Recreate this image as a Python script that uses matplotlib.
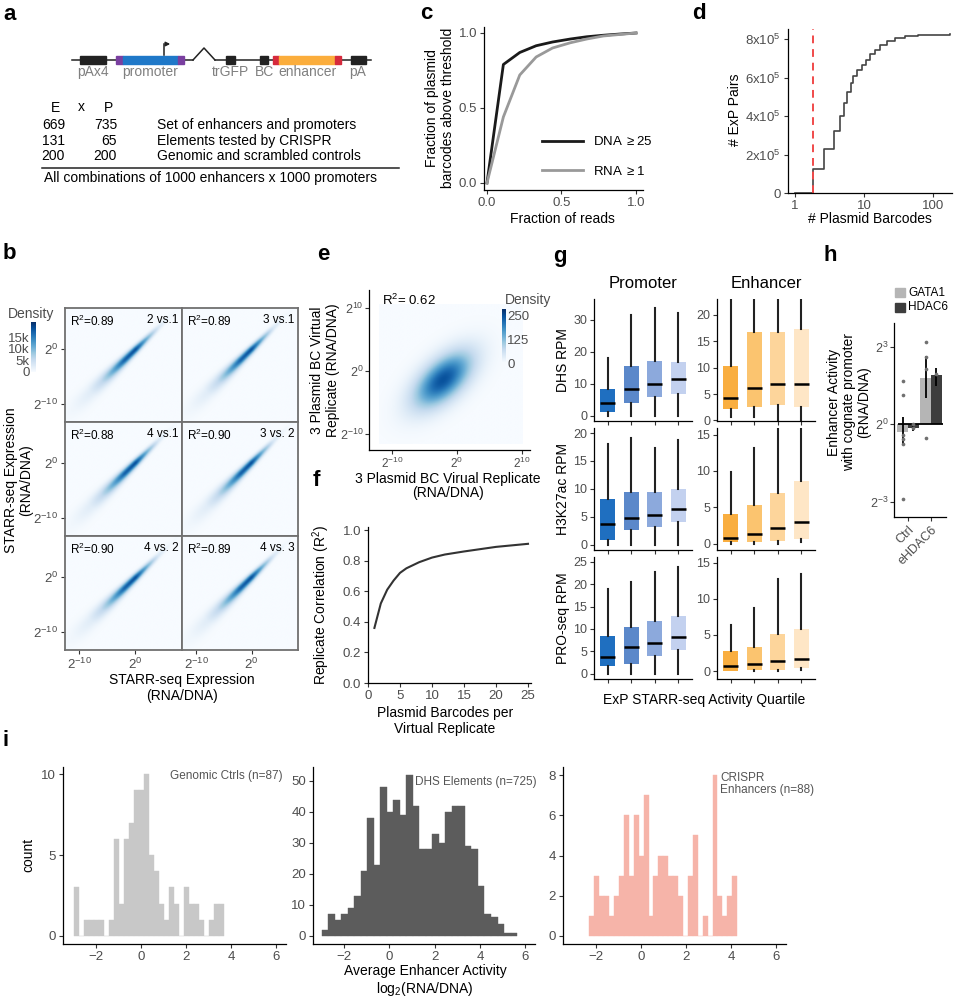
import numpy as np
import matplotlib
matplotlib.use('Agg')
import matplotlib.pyplot as plt
from matplotlib.patches import Rectangle

plt.rcParams['font.family'] = ['Liberation Sans', 'DejaVu Sans']
plt.rcParams['mathtext.fontset'] = 'custom'
plt.rcParams['mathtext.rm'] = 'Liberation Sans'
plt.rcParams['mathtext.it'] = 'Liberation Sans:italic'
plt.rcParams['mathtext.bf'] = 'Liberation Sans:bold'
plt.rcParams['axes.linewidth'] = 0.9

# --- data ---
# a: library design
table_E = [669, 131, 200]
table_P = [735, 65, 200]
table_desc = ['Set of enhancers and promoters', 'Elements tested by CRISPR',
              'Genomic and scrambled controls']

# b: replicate correlations, density ridge along the diagonal (log2 units)
b_r2 = ['0.89', '0.89', '0.88', '0.90', '0.90', '0.89']
b_pairs = ['2 vs.1', '3 vs.1', '4 vs.1', '3 vs. 2', '4 vs. 2', '4 vs. 3']
ridge_u = [-14, -11, -8, -6, -4, -2, 0, 2, 4, 6, 9]
ridge_amp = [0.0, 0.04, 0.12, 0.28, 0.55, 0.85, 0.92, 0.5, 0.16, 0.03, 0.0]
ridge_width = [1.3, 1.15, 0.95, 0.8, 0.65, 0.52, 0.44, 0.38, 0.33, 0.29, 0.25]
b_density_max = 21600

# c: barcode thresholds
c_frac_reads = [0, 0.11, 0.22, 0.33, 0.44, 0.56, 0.67, 0.78, 0.89, 1.0]
c_dna = [0, 0.79, 0.87, 0.915, 0.94, 0.96, 0.975, 0.985, 0.993, 1.0]
c_rna = [0, 0.44, 0.72, 0.84, 0.90, 0.935, 0.96, 0.98, 0.99, 1.0]

# d: cumulative ExP pairs vs plasmid barcodes
d_barcodes = [1, 1.82, 2.63, 3.67, 4.5, 5.1, 5.67, 6.5, 6.9, 7.9, 9.3, 10.7,
              12.2, 14.4, 17.1, 21.6, 28.1, 39.3, 60, 176]
d_pairs = [0, 1.27e5, 2.31e5, 3.21e5, 4.0e5, 4.65e5, 5.24e5, 5.7e5, 6.08e5,
           6.4e5, 6.63e5, 6.9e5, 7.2e5, 7.45e5, 7.7e5, 7.9e5, 8.05e5, 8.15e5,
           8.22e5, 8.25e5]
d_cutoff = 1.82

# e: virtual replicate density
e_r2 = '0.62'
e_center = (-2.2, -1.4)
e_sd_major, e_sd_minor = 3.9, 2.0
e_density_max = 287

# f: replicate correlation vs barcodes
f_barcodes = [1, 2, 3, 4, 5, 6, 7, 8, 9, 10, 12, 15, 20, 25]
f_r2 = [0.36, 0.52, 0.61, 0.67, 0.72, 0.75, 0.77, 0.79, 0.805, 0.82, 0.84,
        0.86, 0.89, 0.91]

# g: chromatin marks per activity quartile (whislo, q1, med, q3, whishi)
g_marks = ['DHS RPM', 'H3K27ac RPM', 'PRO-seq RPM']
g_prom = [
    [(0, 1.1, 3.9, 8.3, 18.0), (0, 3.9, 8.2, 15.4, 31.6),
     (0, 5.7, 9.8, 17.1, 33.6), (0, 6.8, 11.4, 16.9, 32.1)],
    [(0, 0.9, 3.7, 8.2, 18.1), (0, 2.6, 4.8, 9.4, 19.1),
     (0, 3.2, 5.3, 9.4, 17.3), (0, 4.1, 6.4, 10.0, 18.8)],
    [(0, 1.6, 3.8, 8.5, 18.9), (0, 2.2, 5.9, 10.5, 20.6),
     (0, 3.9, 6.9, 11.8, 22.7), (0, 5.4, 8.1, 12.8, 23.8)],
]
g_enh = [
    [(0.6, 2.1, 4.3, 10.4, 25), (0.6, 2.6, 6.1, 16.8, 25),
     (0, 3.0, 7.0, 16.8, 25), (0, 2.5, 7.0, 17.3, 25)],
    [(0, 0.25, 0.83, 4.1, 9.8), (0, 0.25, 1.3, 5.4, 13.1),
     (0, 0.4, 2.2, 7.0, 18), (0.2, 0.73, 3.0, 8.6, 18)],
    [(0, 0.05, 0.66, 2.8, 6.4), (0, 0.1, 1.0, 3.4, 8.7),
     (0, 0.15, 1.4, 5.2, 12.8), (0.1, 0.4, 1.7, 5.8, 13.4)],
]
g_prom_colors = ['#1f6fc0', '#5b88ca', '#8ca9dc', '#c3d1ef']
g_enh_colors = ['#f9ae40', '#fbc46f', '#fdd59b', '#fee6c6']

# h: CRISPRi enhancer activity (log2)
h_groups = ['Ctrl', 'eHDAC6']
h_gata1 = [-0.29, 1.81]
h_hdac6 = [-0.13, 1.92]
h_gata1_err = [(-0.8, 0.3), (1.02, 2.66)]
h_hdac6_err = [(-0.25, 0.0), (1.47, 2.17)]
h_gata1_pts = [[1.68, 1.13, -0.42, -0.58, -0.75, -2.92], [3.2, 2.6, 2.14, -0.55]]
h_hdac6_pts = [[0.0, -0.15], [1.95]]

# i: histograms of average enhancer activity
i1_counts = [3, 0, 1, 1, 1, 1, 0, 1, 6, 2, 6, 7, 9, 9, 10, 5, 4, 2, 1, 3, 2, 0,
             3, 2, 2, 1, 0, 1, 2, 2]
i1_start, i1_width = -3.0, 0.2222
i2_counts = [2, 7, 5, 7, 9, 13, 21, 38, 23, 48, 40, 44, 39, 52, 42, 28, 28, 33,
             30, 40, 42, 42, 29, 28, 16, 7, 6, 4, 1, 1]
i2_start, i2_width = -2.98, 0.287
i3_counts = [1, 3, 2, 2, 1, 2, 3, 6, 3, 6, 4, 7, 1, 3, 4, 4, 3, 3, 2, 0, 3, 5,
             0, 1, 0, 8, 2, 1, 2, 3]
i3_start, i3_width = -2.27, 0.218

W, H = 955, 1002
fig = plt.figure(figsize=(W / 100, H / 100), dpi=100)
TICK = '#4d4d4d'


def px_axes(x0, y0, x1, y1):
    return fig.add_axes([x0 / W, 1 - y1 / H, (x1 - x0) / W, (y1 - y0) / H])


def classic(ax, size=9.5):
    for s in ['top', 'right']:
        ax.spines[s].set_visible(False)
    ax.tick_params(colors='#333333', labelcolor=TICK, length=3, width=0.8,
                   labelsize=size, pad=2)


# ---------- b ----------
cmap = plt.get_cmap('Blues')
gx = np.linspace(-12.6, 8.4, 300)
gy = np.linspace(-13.4, 7.6, 300)
GX, GY = np.meshgrid(gx, gy)
U = (GX + GY) / 2
V = (GY - GX) / np.sqrt(2)
ridge = np.interp(U, ridge_u, ridge_amp) * np.exp(
    -0.5 * (V / np.interp(U, ridge_u, ridge_width)) ** 2)
b_cols = [(65, 182), (182, 298)]
b_rows = [(308, 422), (422, 536), (536, 650)]
pow2 = lambda v: r'$2^{%d}$' % v
for k in range(6):
    r, c = divmod(k, 2)
    ax = px_axes(b_cols[c][0], b_rows[r][0], b_cols[c][1], b_rows[r][1])
    ax.imshow(ridge * b_density_max * 0.95, extent=[-12.6, 8.4, -13.4, 7.6],
              origin='lower', cmap=cmap, vmin=0, vmax=b_density_max,
              aspect='auto', interpolation='bilinear')
    ax.set_xlim(-12.6, 8.4)
    ax.set_ylim(-13.4, 7.6)
    for s in ax.spines.values():
        s.set_color('#707070')
        s.set_linewidth(1.3)
    ax.tick_params(colors='#333333', labelcolor=TICK, length=3, width=0.8,
                   labelsize=9.5, pad=2)
    ax.set_xticks([-10, 0])
    ax.set_yticks([-10, 0])
    ax.set_xticklabels([pow2(-10), pow2(0)] if r == 2 else [])
    ax.set_yticklabels([pow2(-10), pow2(0)] if c == 0 else [])
    if r < 2:
        ax.tick_params(axis='x', length=0)
    if c == 1:
        ax.tick_params(axis='y', length=0)
    ax.text(0.04, 0.95, r'R$^2$=' + b_r2[k], transform=ax.transAxes,
            fontsize=8.5, va='top', ha='left')
    ax.text(0.97, 0.95, b_pairs[k], transform=ax.transAxes, fontsize=8.5,
            va='top', ha='right')

cax = px_axes(31, 322, 35, 372)
cax.imshow(np.linspace(0, 1, 100)[:, None], aspect='auto', cmap=cmap,
           origin='lower', extent=[0, 1, 0, b_density_max])
cax.set_xticks([])
cax.set_yticks([0, 5000, 10000, 15000])
cax.set_yticklabels(['0', '5k', '10k', '15k'])
cax.tick_params(axis='y', length=0, labelsize=9.5, labelcolor=TICK, pad=1)
for s in cax.spines.values():
    s.set_visible(False)

# ---------- c ----------
ax = px_axes(484, 27, 643, 190)
classic(ax)
ax.plot(c_frac_reads, c_dna, color='#1a1a1a', lw=2)
ax.plot(c_frac_reads, c_rna, color='#999999', lw=2)
ax.set_xlim(-0.02, 1.047)
ax.set_ylim(-0.047, 1.04)
ax.set_xticks([0, 0.5, 1.0])
ax.set_yticks([0, 0.5, 1.0])
ax.set_xticklabels(['0.0', '0.5', '1.0'])
ax.set_yticklabels(['0.0', '0.5', '1.0'])

# ---------- d ----------
ax = px_axes(788, 29, 952, 193)
classic(ax)
ax.plot(d_barcodes, d_pairs, drawstyle='steps-post', color='#444444', lw=1.2)
ax.axvline(d_cutoff, color='#f04a4a', lw=1.4, ls=(0, (4, 3)))
ax.set_xscale('log')
ax.set_xlim(0.79, 189)
ax.set_ylim(0, 8.52e5)
ax.set_xticks([1, 10, 100])
ax.set_xticklabels(['1', '10', '100'])
ax.minorticks_off()
ax.set_yticks([0, 2e5, 4e5, 6e5, 8e5])
ax.set_yticklabels(['0', r'2x$10^{5}$', r'4x$10^{5}$', r'6x$10^{5}$',
                    r'8x$10^{5}$'])

# ---------- e ----------
ax = px_axes(369, 290, 530, 450)
classic(ax, 9)
ax.tick_params(axis='x', pad=1, labelsize=8.5)
ax.tick_params(axis='y', pad=1)
ex = np.linspace(-12, 10, 220)
ey = np.linspace(-11.6, 10.6, 220)
EX, EY = np.meshgrid(ex, ey)
A = ((EX - e_center[0]) + (EY - e_center[1])) / np.sqrt(2)
B = ((EY - e_center[1]) - (EX - e_center[0])) / np.sqrt(2)
blob = np.exp(-0.5 * ((A / e_sd_major) ** 2 + (B / e_sd_minor) ** 2))
ax.imshow(blob * 250, extent=[-12, 10, -11.6, 10.6], origin='lower',
          cmap=cmap, vmin=0, vmax=e_density_max, aspect='auto',
          interpolation='bilinear')
ax.set_xlim(-13.5, 11.2)
ax.set_ylim(-12.5, 12.9)
ax.set_xticks([-10, 0, 10])
ax.set_yticks([-10, 0, 10])
ax.set_xticklabels([pow2(-10), pow2(0), pow2(10)])
ax.set_yticklabels([pow2(-10), pow2(0), pow2(10)])
ax.text(-11.5, 11.2, r'R$^2$= ' + e_r2, fontsize=9.5, va='center')

cax = px_axes(502, 309, 506, 363)
cax.imshow(np.linspace(0, 1, 100)[:, None], aspect='auto', cmap=cmap,
           origin='lower', extent=[0, 1, 0, e_density_max])
cax.set_xticks([])
cax.yaxis.tick_right()
cax.set_yticks([0, 125, 250])
cax.tick_params(axis='y', length=0, labelsize=9.5, labelcolor=TICK, pad=1)
for s in cax.spines.values():
    s.set_visible(False)

# ---------- f ----------
ax = px_axes(368, 527, 531, 683)
classic(ax)
ax.plot(f_barcodes, f_r2, color='#333333', lw=1.5)
ax.set_xlim(0, 25.47)
ax.set_ylim(0, 1.02)
ax.set_xticks([0, 5, 10, 15, 20, 25])
ax.set_yticks([0, 0.2, 0.4, 0.6, 0.8, 1.0])
ax.set_yticklabels(['0.0', '0.2', '0.4', '0.6', '0.8', '1.0'])

# ---------- g ----------
g_rows = [(299, 421), (428, 550), (557, 679)]
g_prom_lim = [(-1.7, 36.5), (-0.96, 20.9), (-1.2, 26.1)]
g_enh_lim = [(-0.1, 23.0), (-0.84, 15.9), (-1.1, 15.8)]
g_prom_ticks = [[0, 10, 20, 30], [0, 5, 10, 15, 20], [0, 5, 10, 15, 20, 25]]
g_enh_ticks = [[0, 5, 10, 15, 20], [0, 5, 10, 15], [0, 5, 10, 15]]


def g_box(ax, stats, colors, lim, ticks):
    classic(ax, 9)
    st = [dict(whislo=s[0], q1=s[1], med=s[2], q3=s[3], whishi=s[4])
          for s in stats]
    bp = ax.bxp(st, positions=[1, 2, 3, 4], widths=0.62, patch_artist=True,
                showfliers=False, showcaps=False,
                medianprops=dict(color='black', lw=1.8),
                whiskerprops=dict(color='#222222', lw=1.5))
    for patch, col in zip(bp['boxes'], colors):
        patch.set_facecolor(col)
        patch.set_edgecolor('none')
    ax.set_xlim(0.42, 4.58)
    ax.set_ylim(*lim)
    ax.set_yticks(ticks)
    ax.set_xticks([1, 2, 3, 4])
    ax.set_xticklabels([])


for r in range(3):
    axp = px_axes(594, g_rows[r][0], 692, g_rows[r][1])
    g_box(axp, g_prom[r], g_prom_colors, g_prom_lim[r], g_prom_ticks[r])
    axe = px_axes(717, g_rows[r][0], 815, g_rows[r][1])
    g_box(axe, g_enh[r], g_enh_colors, g_enh_lim[r], g_enh_ticks[r])

# ---------- h ----------
ax = px_axes(894, 323, 946, 517)
classic(ax, 9)
ax.tick_params(axis='y', pad=1)
xpos = np.arange(1, len(h_groups) + 1)
bw = 0.47
ax.bar(xpos - bw / 2, h_gata1, width=bw, color='#b5b5b5', zorder=1)
ax.bar(xpos + bw / 2, h_hdac6, width=bw, color='#3d3d3d', zorder=1)
ax.hlines(0, 0.55, 2.5, color='black', lw=1.3, zorder=2)
for i in range(len(h_groups)):
    ax.vlines(xpos[i] - bw / 2, *h_gata1_err[i], color='black', lw=1.3, zorder=3)
    ax.vlines(xpos[i] + bw / 2, *h_hdac6_err[i], color='black', lw=1.3, zorder=3)
    ax.scatter([xpos[i] - bw / 2] * len(h_gata1_pts[i]), h_gata1_pts[i],
               s=7, color='#707070', zorder=4, linewidths=0)
    ax.scatter([xpos[i] + bw / 2] * len(h_hdac6_pts[i]), h_hdac6_pts[i],
               s=7, color='#707070', zorder=4, linewidths=0)
ax.set_xlim(0.39, 2.65)
ax.set_ylim(-3.6, 3.93)
ax.set_yticks([-3, 0, 3])
ax.set_yticklabels([pow2(-3), pow2(0), pow2(3)])
ax.set_xticks(xpos)
ax.set_xticklabels(h_groups, rotation=45, ha='right', rotation_mode='anchor')

# ---------- i ----------
i_specs = [
    ((63, 767, 286, 944), i1_counts, i1_start, i1_width, '#c8c8c8',
     (-3.47, 6.44), (-0.5, 10.45), [0, 5, 10]),
    ((313, 767, 535, 944), i2_counts, i2_start, i2_width, '#5c5c5c',
     (-3.36, 6.42), (-2.6, 54.5), [0, 10, 20, 30, 40, 50]),
    ((563, 767, 786, 944), i3_counts, i3_start, i3_width, '#f6b4a9',
     (-3.44, 6.43), (-0.4, 8.4), [0, 2, 4, 6, 8]),
]
for box, counts, start, width, col, xl, yl, yt in i_specs:
    ax = px_axes(*box)
    classic(ax)
    edges = start + width * np.arange(len(counts))
    ax.bar(edges, counts, width=width, align='edge', color=col,
           edgecolor=col, linewidth=0.3)
    ax.set_xlim(*xl)
    ax.set_ylim(*yl)
    ax.set_yticks(yt)
    ax.set_xticks([-2, 0, 2, 4, 6])
    ax.set_xticklabels(['\u22122', '0', '2', '4', '6'])

# ---------- overlay: diagram, labels, titles ----------
ov = fig.add_axes([0, 0, 1, 1])
ov.set_xlim(0, W)
ov.set_ylim(H, 0)
ov.axis('off')
ov.patch.set_alpha(0)

def T(x, y, s, **kw):
    kw.setdefault('fontsize', 10)
    kw.setdefault('ha', 'center')
    kw.setdefault('va', 'center')
    ov.text(x, y, s, **kw)

# panel letters
for lab, x, y in [('a', 3, 14), ('b', 3, 253), ('c', 420, 13), ('d', 692, 13),
                  ('e', 317, 254), ('f', 313, 480), ('g', 553, 256),
                  ('h', 823, 255), ('i', 2, 740)]:
    T(x, y, lab, fontsize=16, fontweight='bold', ha='left')

# a: construct diagram
ov.plot([72, 193], [60, 60], color='#222222', lw=1.1, zorder=1)
ov.plot([193, 204, 215], [60, 48, 60], color='#222222', lw=1.1, zorder=1)
ov.plot([215, 371], [60, 60], color='#222222', lw=1.1, zorder=1)
for x0, x1, col in [(80, 106, '#222222'), (116, 123, '#7a3fa0'),
                    (123, 178, '#1f78c8'), (178, 184, '#7a3fa0'),
                    (226, 235, '#222222'), (260, 268, '#222222'),
                    (273, 279, '#d62a3c'), (279, 335, '#fbad3c'),
                    (335, 341, '#d62a3c'), (351, 366, '#222222')]:
    ov.add_patch(Rectangle((x0, 55.5), x1 - x0, 8.5, color=col, zorder=2))
ov.plot([164, 164], [55, 44], color='#222222', lw=1.1)
ov.annotate('', xy=(173, 44), xytext=(163.5, 44),
            arrowprops=dict(arrowstyle='-|>', color='#222222', lw=1.1,
                            mutation_scale=6))
for lab, x in [('pAx4', 93), ('promoter', 150), ('trGFP', 230), ('BC', 264),
               ('enhancer', 307), ('pA', 358)]:
    T(x, 72, lab, color='#808080', fontsize=10)

T(55, 108, 'E'); T(81, 107, 'x'); T(108, 108, 'P')
for k in range(3):
    y = 125 + 15.7 * k
    T(65, y, str(table_E[k]), ha='right')
    T(117, y, str(table_P[k]), ha='right')
    T(157, y, table_desc[k], ha='left')
ov.plot([42, 399], [168, 168], color='#222222', lw=1.1)
T(44, 178, 'All combinations of 1000 enhancers x 1000 promoters', ha='left')

# b
T(8, 314, 'Density', ha='left', color='#4d4d4d')
T(19, 480, 'STARR-seq Expression\n(RNA/DNA)', rotation=90, linespacing=1.1)
T(182, 688, 'STARR-seq Expression\n(RNA/DNA)', linespacing=1.15)

# c
T(440, 108, 'Fraction of plasmid\nbarcodes above threshold', rotation=90,
  linespacing=1.15)
T(562, 219, 'Fraction of reads')
ov.plot([542, 583], [141, 141], color='#1a1a1a', lw=2)
ov.plot([542, 583], [170, 170], color='#999999', lw=2)
T(593, 141, 'DNA $\\geq$25', ha='left', fontsize=9.5)
T(593, 171, 'RNA $\\geq$1', ha='left', fontsize=9.5)

# d
T(735, 110, '# ExP Pairs', rotation=90)
T(870, 219, '# Plasmid Barcodes')

# e
T(505, 300, 'Density', ha='left', color='#4d4d4d')
T(325, 370, '3 Plasmid BC Virtual\nReplicate (RNA/DNA)', rotation=90,
  linespacing=1.1)
T(448, 486, '3 Plasmid BC Virual Replicate\n(RNA/DNA)', linespacing=1.05)

# f
T(321, 605, r'Replicate Correlation (R$^2$)', rotation=90)
T(445, 721, 'Plasmid Barcodes per\nVirtual Replicate', linespacing=1.15)

# g
T(643, 283, 'Promoter', fontsize=12)
T(766, 283, 'Enhancer', fontsize=12)
for r in range(3):
    T(563, (g_rows[r][0] + g_rows[r][1]) / 2, g_marks[r], rotation=90)
T(704, 700, 'ExP STARR-seq Activity Quartile')

# h
ov.add_patch(Rectangle((895, 288), 10, 9, color='#b5b5b5'))
ov.add_patch(Rectangle((895, 303), 10, 9, color='#3d3d3d'))
T(908, 292.5, 'GATA1', ha='left', fontsize=8.5)
T(908, 307.5, 'HDAC6', ha='left', fontsize=8.5)
T(849, 402, 'Enhancer Activity\nwith cognate promoter\n(RNA/DNA)', rotation=90,
  linespacing=1.1)

# i
T(28, 855, 'count', rotation=90)
T(283, 776, 'Genomic Ctrls (n=87)', ha='right', color='#555555', fontsize=8.5)
T(415, 782, 'DHS Elements (n=725)', ha='left', color='#555555', fontsize=8.5)
T(720, 784, 'CRISPR\nEnhancers (n=88)', ha='left', color='#555555',
  fontsize=8.5, linespacing=1.1)
T(425, 981, 'Average Enhancer Activity\nlog$_2$(RNA/DNA)', linespacing=1.15)

fig.savefig('out.png', dpi=100)
